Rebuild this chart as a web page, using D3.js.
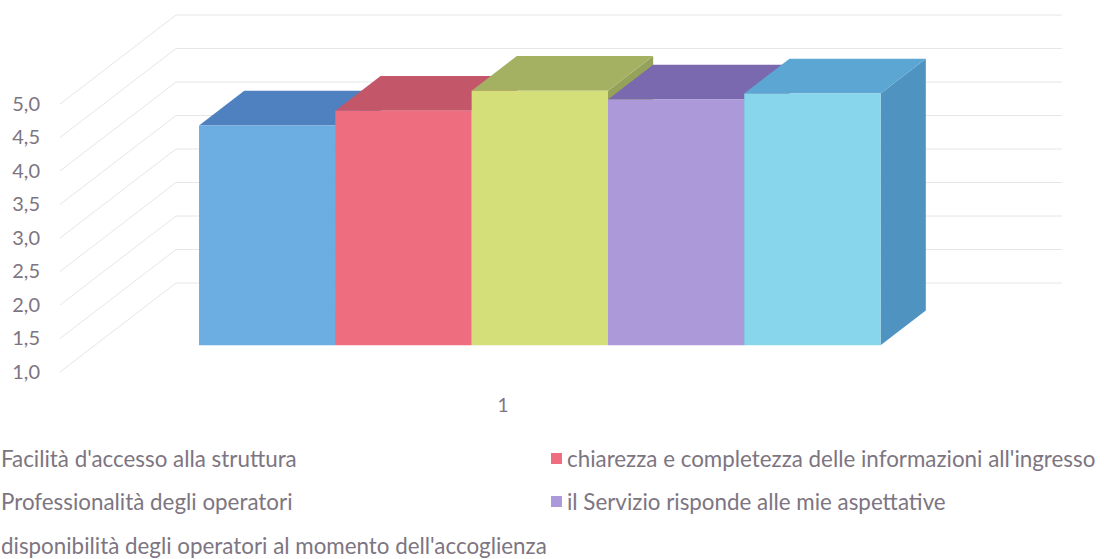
<!DOCTYPE html>
<html><head><meta charset="utf-8">
<script src="https://cdn.jsdelivr.net/npm/d3@7"></script>
<style>body{margin:0;background:#fff;overflow:hidden}</style></head>
<body>
<svg id="c" width="1104" height="559"></svg>
<script>
// ---- data ----
const categories = ["1"];
const seriesNames = [
  "Facilità d'accesso alla struttura",
  "chiarezza e completezza delle informazioni all'ingresso",
  "Professionalità degli operatori",
  "il Servizio risponde alle mie aspettative",
  "disponibilità degli operatori al momento dell'accoglienza"
];
const seriesValues = [4.28, 4.5, 4.8, 4.67, 4.76];
const yTicks = [1.0, 1.5, 2.0, 2.5, 3.0, 3.5, 4.0, 4.5, 5.0];

// ---- styles ----
const frontColors = ["#6cade2", "#ee6e7f", "#d4df7a", "#ab99d9", "#88d6ec"];
const topColors   = ["#4f80bf", "#c4566a", "#a4b163", "#7a69ae", "#5ca6d3"];
const sideColors  = ["#4a78b3", "#b44f62", "#95a25a", "#6f60a0", "#4f93c1"];
const textColor = "#7d7581";
const gridColor = "#e6e6e6";
const font = "Lato, 'Open Sans', sans-serif";

const svg = d3.select("#c");

// oblique projection
const DX = 116, DY = -89;
const floorLeft = 60, floorRight = 946;
const y = d3.scaleLinear().domain([1, 5]).range([372, 104]);
const xCat = d3.scaleBand().domain(categories).range([floorLeft, floorRight]);
const xs = d3.scaleBand().domain(seriesNames)
  .range([xCat(categories[0]) + 2, xCat(categories[0]) + xCat.bandwidth() + 2])
  .paddingInner(0).paddingOuter(0.75);
const tFront = 0.3, tBack = 0.69;
const P = (x, v, t) => [x + t * DX, y(v) + t * DY];

// gridlines: left wall diagonals + back wall horizontals
const grid = svg.append("g").attr("fill", "none").attr("stroke", gridColor).attr("stroke-width", 1);
yTicks.forEach(v => {
  const a = P(floorLeft, v, 0), b = P(floorLeft, v, 1), c = P(floorRight, v, 1);
  grid.append("path").attr("d", d3.line()([a, b, c]));
});

// y axis labels
const yAxis = d3.axisLeft(y).tickValues(yTicks).tickSize(0).tickPadding(0)
  .tickFormat(d => d3.format(".1f")(d).replace(".", ","));
const ga = svg.append("g").attr("transform", "translate(40,0)").call(yAxis);
ga.select(".domain").remove();
ga.selectAll("text").attr("fill", textColor).style("font-family", font).style("font-size", "20px");

// bars
const bars = svg.append("g");
seriesNames.forEach((name, i) => {
  const v = seriesValues[i];
  const x0 = xs(name), x1 = x0 + xs.bandwidth();
  const g = bars.append("g");
  const poly = pts => "M" + pts.map(p => p.join(",")).join("L") + "Z";
  g.append("path").attr("fill", sideColors[i])
    .attr("d", poly([P(x1, 1, tFront), P(x1, 1, tBack), P(x1, v, tBack), P(x1, v, tFront)]));
  g.append("path").attr("fill", topColors[i])
    .attr("d", poly([P(x0, v, tFront), P(x1, v, tFront), P(x1, v, tBack), P(x0, v, tBack)]));
  g.append("path").attr("fill", frontColors[i])
    .attr("d", poly([P(x0, 1, tFront), P(x1, 1, tFront), P(x1, v, tFront), P(x0, v, tFront)]));
});

// category label
svg.append("text")
  .attr("x", xCat(categories[0]) + xCat.bandwidth() / 2)
  .attr("y", 412)
  .attr("text-anchor", "middle")
  .attr("fill", textColor).style("font-family", font).style("font-size", "19px")
  .text(categories[0]);

// legend
const legendPos = [
  [1, 459], [567, 459], [1, 502], [567, 502], [1, 546]
];
const lg = svg.append("g");
// fit font size so the long left label spans ~546px
const probe = lg.append("text").style("font-family", font).style("font-size", "20px").text(seriesNames[4]);
const w20 = probe.node().getComputedTextLength();
probe.remove();
const fs = 20 * 546 / w20;
seriesNames.forEach((name, i) => {
  const [tx, ty] = legendPos[i];
  lg.append("rect").attr("x", tx - 16).attr("y", ty - 6).attr("width", 11).attr("height", 11)
    .attr("fill", frontColors[i]);
  lg.append("text").attr("x", tx).attr("y", ty).attr("dy", "0.35em")
    .attr("fill", textColor).style("font-family", font).style("font-size", fs + "px")
    .text(name);
});
</script>
</body></html>
